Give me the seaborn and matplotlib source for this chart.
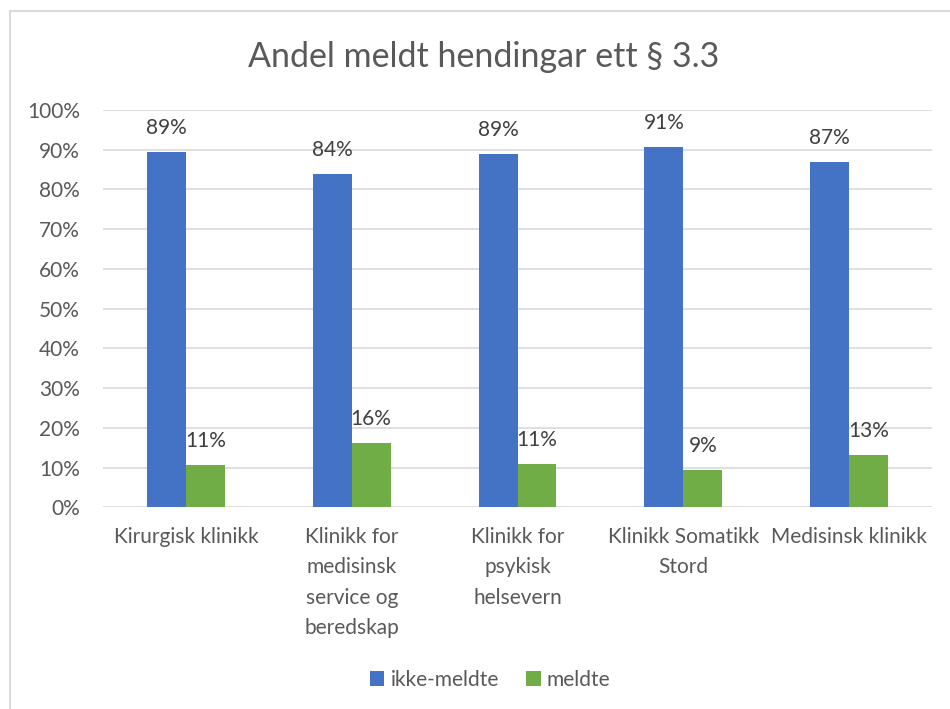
import pandas as pd
import matplotlib.pyplot as plt
import seaborn as sns
from matplotlib.lines import Line2D
from matplotlib.ticker import PercentFormatter

# Data
klinikker = [
    "Kirurgisk klinikk",
    "Klinikk for\nmedisinsk\nservice og\nberedskap",
    "Klinikk for\npsykisk\nhelsevern",
    "Klinikk Somatikk\nStord",
    "Medisinsk klinikk",
]
ikke_meldte = [0.894, 0.838, 0.890, 0.907, 0.869]
meldte = [0.106, 0.162, 0.110, 0.093, 0.131]
serier = ["ikke-meldte", "meldte"]
farger = ["#4472C4", "#70AD47"]

df = pd.DataFrame({
    "klinikk": klinikker * 2,
    "andel": ikke_meldte + meldte,
    "serie": [serier[0]] * len(klinikker) + [serier[1]] * len(klinikker),
})

sns.set_theme(style="white")
plt.rcParams["font.family"] = ["Lato", "DejaVu Sans"]

fig = plt.figure(figsize=(9.5, 7.09), dpi=100)
ax = fig.add_axes([0.1084, 0.2845, 0.8727, 0.5604])

sns.barplot(data=df, x="klinikk", y="andel", hue="serie", palette=farger,
            saturation=1, width=0.47, errorbar=None, ax=ax, zorder=3, linewidth=0)

ax.set_ylim(0, 1)
ax.set_xlim(-0.5, len(klinikker) - 0.5)
ax.set_yticks([i / 10 for i in range(11)])
ax.yaxis.set_major_formatter(PercentFormatter(1.0, decimals=0))
ax.grid(axis="y", color="#D9D9D9", linewidth=1.2, zorder=0)
ax.set_axisbelow(True)
for s in ax.spines.values():
    s.set_visible(False)
ax.set_xlabel("")
ax.set_ylabel("")
ax.tick_params(axis="y", length=0, pad=16.5, labelsize=15, labelcolor="#595959")
ax.tick_params(axis="x", length=0, pad=14, labelsize=15, labelcolor="#595959")
for lbl in ax.get_xticklabels():
    lbl.set_linespacing(1.65)
    lbl.set_va("top")

# value labels
for cont in ax.containers:
    ax.bar_label(cont, labels=[f"{v * 100:.0f}%" for v in cont.datavalues],
                 padding=10, fontsize=15, color="#404040")

ax.legend_.remove()
handles, labels = ax.get_legend_handles_labels()
fig.legend(handles, labels, loc="center", bbox_to_anchor=(490 / 950, 1 - 680 / 709),
           ncol=2, frameon=False, fontsize=15, labelcolor="#595959",
           handlelength=0.7, handleheight=0.7, handletextpad=0.3, columnspacing=1.3)

fig.text(484 / 950, 1 - 57 / 709, "Andel meldt hendingar ett § 3.3",
         ha="center", va="center", fontsize=24.5, color="#595959")

# chart area border (left and top only are visible)
yt = 1 - 11 / 709
xl = 10 / 950
fig.add_artist(Line2D([xl, xl], [0, yt], color="#D9D9D9", linewidth=1.4))
fig.add_artist(Line2D([xl, 1], [yt, yt], color="#D9D9D9", linewidth=1.4))

fig.savefig("out.png", dpi=100)
